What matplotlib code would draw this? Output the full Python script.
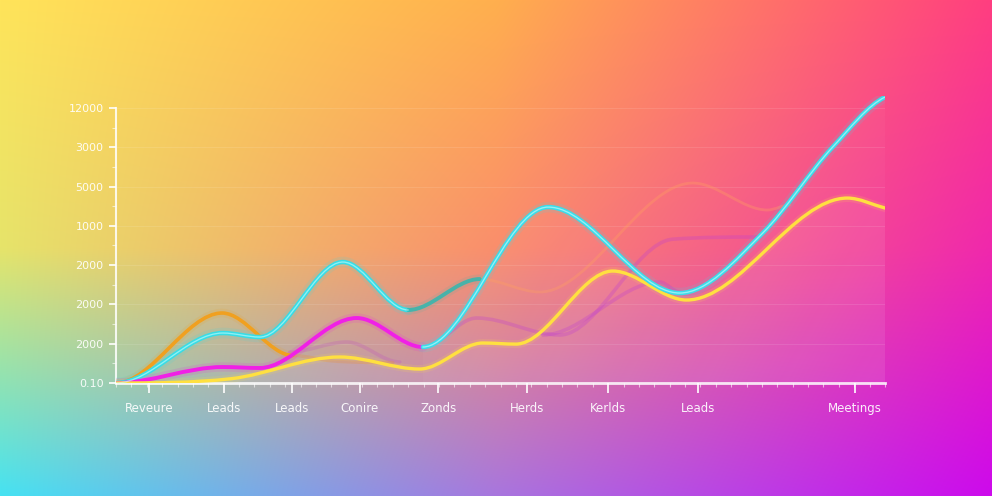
import numpy as np
import matplotlib
matplotlib.use("Agg")
import matplotlib.pyplot as plt
from matplotlib.path import Path
from matplotlib.patches import PathPatch
from matplotlib.ticker import MultipleLocator

# x positions along the axis (0-100), values in the chart's y units
cyan_x = [0, 13.9, 18.7, 29.5, 38.0]
cyan_y = [0, 1272, 1170, 3079, 1858]

teal_x = [38.0, 47.3]
teal_y = [1858, 2646]

cyan2_x = [39.9, 56.2, 73.3, 84.1, 93.2, 100]
cyan2_y = [916, 4478, 2290, 3817, 6006, 7277]

yellow_x = [0, 15.0, 29.1, 39.5, 47.7, 52.0, 64.6, 74.2, 95.1, 100]
yellow_y = [0, 110, 662, 356, 1018, 990, 2850, 2112, 4707, 4453]

orange_x = [0, 13.8, 23.0]
orange_y = [0, 1781, 700]
orange_tail_x = [23.0, 28.2, 36.0]
orange_tail_y = [700, 560, 520]

magenta_x = [0, 13.9, 18.7, 31.3, 39.9]
magenta_y = [0, 407, 382, 1654, 916]

faint_orange_x = [47.3, 55.1, 75.0, 84.7, 87.6]
faint_orange_y = [2646, 2316, 5090, 4403, 4530]

faint_purple_x = [39.9, 46.9, 57.7, 72.4, 83.7]
faint_purple_y = [916, 1654, 1222, 3660, 3716]

faint_purple2_x = [55.5, 70.7, 73.3]
faint_purple2_y = [1222, 2570, 2316]

faint_bump_x = [22.6, 30.0, 36.9]
faint_bump_y = [789, 1043, 534]

x_ticks = [4.3, 14.0, 22.9, 31.7, 41.9, 53.4, 64.0, 75.7, 96.1]
x_labels = ["Reveure", "Leads", "Leads", "Conire", "Zonds", "Herds",
            "Kerlds", "Leads", "Meetings"]
y_ticks = [0, 1000, 2000, 3000, 4000, 5000, 6000, 7000]
y_labels = ["0.10", "2000", "2000", "2000", "1000", "5000", "3000", "12000"]


def smooth_path(x, y, close_to=None, end_slope=0.0):
    """monotone-x cubic through the points, as bezier path.
    end_slope: fraction of the last segment's slope used at the end point"""
    x = np.asarray(x, float)
    y = np.asarray(y, float)
    n = len(x)
    dx = np.diff(x)
    s = np.diff(y) / dx
    m = np.zeros(n)
    for i in range(1, n - 1):
        if s[i - 1] * s[i] <= 0:
            m[i] = 0.0
        else:
            m[i] = (s[i - 1] * dx[i] + s[i] * dx[i - 1]) / (dx[i - 1] + dx[i])
            lim = 3 * min(abs(s[i - 1]), abs(s[i]))
            if abs(m[i]) > lim:
                m[i] = np.sign(m[i]) * lim
    m[-1] = end_slope * s[-1]
    verts = [(x[0], y[0])]
    codes = [Path.MOVETO]
    for i in range(n - 1):
        h = dx[i] / 3.0
        verts += [(x[i] + h, y[i] + m[i] * h),
                  (x[i + 1] - h, y[i + 1] - m[i + 1] * h),
                  (x[i + 1], y[i + 1])]
        codes += [Path.CURVE4] * 3
    if close_to is not None:
        verts += [(x[-1], close_to), (x[0], close_to), (x[0], y[0])]
        codes += [Path.LINETO, Path.LINETO, Path.CLOSEPOLY]
    return Path(verts, codes)


def draw_line(ax, x, y, color, lw=2.4, alpha=1.0, glow=True, core=None,
              end_slope=0.0):
    path = smooth_path(x, y, end_slope=end_slope)
    if glow:
        ax.add_patch(PathPatch(path, fill=False, edgecolor=color,
                               lw=lw * 2.4, alpha=alpha * 0.14,
                               capstyle="round", zorder=3))
    ax.add_patch(PathPatch(path, fill=False, edgecolor=color,
                           lw=lw, alpha=alpha, capstyle="round", zorder=4))
    if core is not None:
        ax.add_patch(PathPatch(path, fill=False, edgecolor=core,
                               lw=lw * 0.3, alpha=alpha * 0.6,
                               capstyle="round", zorder=5))


fig = plt.figure(figsize=(9.92, 4.96), dpi=100)

# gradient background
bg = fig.add_axes([0, 0, 1, 1], zorder=-5)
grid = np.array([
    [[255, 228, 90], [255, 175, 78], [255, 62, 128]],
    [[230, 228, 106], [250, 142, 108], [240, 40, 172]],
    [[70, 226, 242], [168, 118, 222], [205, 10, 236]],
]) / 255.0
H, W = 248, 496
gy = np.linspace(0, 1, H)
gx = np.linspace(0, 1, W)
tmp = np.zeros((H, 3, 3))
for j in range(3):
    for c in range(3):
        tmp[:, j, c] = np.interp(gy, [0, 0.5, 1], grid[:, j, c])
img = np.zeros((H, W, 3))
for r in range(H):
    for c in range(3):
        img[r, :, c] = np.interp(gx, [0, 0.5, 1], tmp[r, :, c])
bg.imshow(img, aspect="auto", extent=[0, 1, 0, 1], interpolation="bilinear")
bg.axis("off")

ax = fig.add_axes([116 / 992, 113 / 496, 769 / 992, 286.8 / 496])
ax.set_facecolor("none")
ax.set_xlim(0, 100)
ax.set_ylim(0, 7300)

# light fill under the curves
ax.add_patch(PathPatch(smooth_path(yellow_x, yellow_y, close_to=0, end_slope=1.0),
                       facecolor="white", edgecolor="none", alpha=0.06, zorder=1))
ax.add_patch(PathPatch(smooth_path(cyan2_x, cyan2_y, close_to=0, end_slope=0.5),
                       facecolor="white", edgecolor="none", alpha=0.03, zorder=1))

# faint background lines
draw_line(ax, faint_orange_x, faint_orange_y, "#ffa060", lw=2.0, alpha=0.35, glow=False)
draw_line(ax, faint_purple_x, faint_purple_y, "#c040d0", lw=2.6, alpha=0.3, glow=False)
draw_line(ax, faint_purple2_x, faint_purple2_y, "#c040d0", lw=2.6, alpha=0.3, glow=False)
draw_line(ax, faint_bump_x, faint_bump_y, "#c050c0", lw=2.6, alpha=0.25, glow=False)

draw_line(ax, orange_x, orange_y, "#f0a020", lw=2.6)
draw_line(ax, orange_tail_x, orange_tail_y, "#e89040", lw=2.4, alpha=0.3, glow=False)

draw_line(ax, cyan_x, cyan_y, "#38dce6", lw=3.2, core="#c8ffff")
draw_line(ax, teal_x, teal_y, "#30b8b0", lw=2.8, alpha=0.85)

draw_line(ax, magenta_x, magenta_y, "#f020e6", lw=2.8)
draw_line(ax, yellow_x, yellow_y, "#ffe040", lw=2.4, end_slope=1.0)
draw_line(ax, cyan2_x, cyan2_y, "#3cdcea", lw=3.2, core="#d0ffff", end_slope=0.5)

# axes styling
for side in ["top", "right"]:
    ax.spines[side].set_visible(False)
ax.spines["left"].set_color((1, 1, 1, 0.85))
ax.spines["left"].set_linewidth(1.5)
ax.spines["left"].set_bounds(0, 7000)
ax.spines["bottom"].set_color((1, 1, 1, 0.85))
ax.spines["bottom"].set_linewidth(2)

ax.set_yticks(y_ticks)
ax.set_yticklabels(y_labels)
ax.yaxis.set_minor_locator(MultipleLocator(500))
ax.set_xticks(x_ticks)
ax.set_xticklabels(x_labels)
ax.xaxis.set_minor_locator(MultipleLocator(2))

ax.tick_params(axis="y", which="major", colors="white", length=5, width=1.2,
               labelsize=8, pad=4)
ax.tick_params(axis="y", which="minor", colors=(1, 1, 1, 0.6), length=3, width=0.8)
ax.tick_params(axis="x", which="major", colors="white", length=7, width=1.2,
               labelsize=8.5, pad=7)
ax.tick_params(axis="x", which="minor", colors=(1, 1, 1, 0.6), length=3, width=0.8)
for lab in ax.get_xticklabels() + ax.get_yticklabels():
    lab.set_alpha(0.92)

for yv in y_ticks[1:]:
    ax.axhline(yv, color="white", alpha=0.1, lw=0.8, zorder=0)

fig.savefig("out.png", dpi=100)
